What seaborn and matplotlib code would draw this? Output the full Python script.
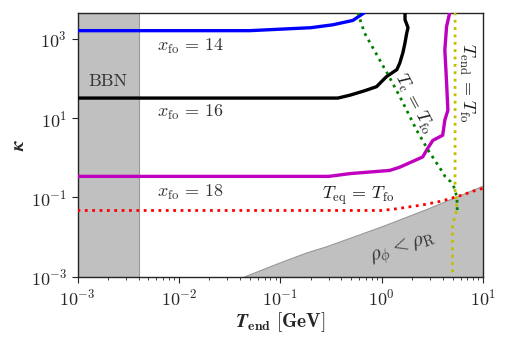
import numpy as np
import pandas as pd
import matplotlib
matplotlib.use('Agg')
import matplotlib.pyplot as plt
import seaborn as sns

# values (T_end in GeV, kappa)

bbn_T = [1e-3, 4e-3]

blue_T = [1e-3, 0.05, 0.2, 0.33, 0.52, 0.68]
blue_k = [1600, 1600, 1900, 2250, 2900, 4600]

black_T = [1e-3, 0.37, 0.49, 0.68, 0.89, 1.12, 1.41, 1.51, 1.62, 1.70,
           1.77, 1.82, 1.70, 1.70]
black_k = [32, 32, 38, 49, 62, 112, 166, 245, 447, 794, 1410, 1905,
           3020, 4600]

magenta_T = [1e-3, 0.3, 0.49, 1.2, 1.51, 2.54, 2.85, 3.2, 4.0, 4.2, 4.5,
             4.37, 4.2, 4.37, 4.7]
magenta_k = [0.34, 0.34, 0.40, 0.48, 0.58, 1.05, 1.74, 2.75, 3.7, 8.9,
             15.8, 78, 525, 2040, 4600]

red_T = [1e-3, 1.0, 1.41, 2.54, 3.9, 6.2, 8.7, 10]
red_k = [0.047, 0.047, 0.052, 0.065, 0.081, 0.115, 0.155, 0.17]

green_T = [0.58, 0.68, 1.04, 1.12, 1.51, 2.21, 2.88, 3.89, 4.22, 4.79,
           5.25, 5.5, 5.56, 5.56]
green_k = [4600, 1380, 200, 145, 35, 5.0, 1.55, 0.48, 0.34, 0.25, 0.17,
           0.102, 0.071, 0.041]

yellow_T = [5.3, 5.3, 5.5, 5.4, 5.0, 5.0]
yellow_k = [4600, 0.15, 0.07, 0.04, 0.02, 1e-3]

rad_T = [0.043, 0.107, 0.18, 0.29, 1.04, 2.75, 10]
rad_k = [1e-3, 2.5e-3, 4.1e-3, 6.0e-3, 0.0195, 0.051, 0.2]

x_ticks = [1e-3, 1e-2, 1e-1, 1e0, 1e1]
y_ticks = [1e-3, 1e-1, 1e1, 1e3]


sns.set_style('ticks')
plt.rcParams['font.family'] = ['cmr10', 'DejaVu Serif']
plt.rcParams['mathtext.fontset'] = 'cm'
plt.rcParams['axes.unicode_minus'] = False
plt.rcParams['axes.formatter.use_mathtext'] = True

fig = plt.figure(figsize=(5.05, 3.38), dpi=100)
ax = fig.add_axes([0.1535, 0.181, 0.803, 0.781])

ymin, ymax = 1e-3, 4.5e3

# shaded regions
ax.fill_between(bbn_T, ymin, ymax, color='silver', edgecolor='0.6',
                linewidth=0.8, zorder=1)
ax.fill_between(rad_T, ymin, rad_k, color='silver', edgecolor='0.6',
                linewidth=0.8, zorder=1)

# contours
curves = [(blue_T, blue_k, 'b'), (black_T, black_k, 'k'),
          (magenta_T, magenta_k, 'm')]
for T, k, c in curves:
    df = pd.DataFrame({'T': T, 'k': k})
    sns.lineplot(data=df, x='T', y='k', sort=False, estimator=None,
                 color=c, linewidth=2.4, ax=ax, zorder=3)

dotted = [(red_T, red_k, 'r'), (green_T, green_k, 'g'),
          (yellow_T, yellow_k, 'y')]
for T, k, c in dotted:
    df = pd.DataFrame({'T': T, 'k': k})
    sns.lineplot(data=df, x='T', y='k', sort=False, estimator=None,
                 color=c, linewidth=2.0, linestyle=':', ax=ax, zorder=4)

ax.set_xscale('log')
ax.set_yscale('log')
ax.set_xlim(1e-3, 1e1)
ax.set_ylim(ymin, ymax)
ax.set_xticks(x_ticks)
ax.set_yticks(y_ticks)
ax.yaxis.set_minor_locator(matplotlib.ticker.NullLocator())
ax.tick_params(axis='both', which='major', labelsize=13, length=4,
               direction='out')
ax.tick_params(axis='x', which='minor', length=2, direction='out')

for s in ax.spines.values():
    s.set_color('0.15')
    s.set_linewidth(1.0)

ax.set_xlabel(r'$\mathbfit{T}_{\mathbf{end}}\ \mathbf{[GeV]}$', fontsize=14,
              labelpad=2)
ax.set_ylabel(r'$\mathbfit{\kappa}$', fontsize=14, labelpad=2)

# annotations
ax.text(0.002, 85, 'BBN', fontsize=13, ha='center', va='center', color='0.2')
ax.text(0.0061, 630, r'$x_{\rm fo}\,=\,14$', fontsize=13, va='center',
        color='0.2')
ax.text(0.0061, 14, r'$x_{\rm fo}\,=\,16$', fontsize=13, va='center',
        color='0.2')
ax.text(0.0061, 0.135, r'$x_{\rm fo}\,=\,18$', fontsize=13, va='center',
        color='0.2')
ax.text(0.26, 0.11, r'$T_{\rm eq}\,=\,T_{\rm fo}$', fontsize=13,
        va='center', color='0.1')
ax.text(2.08, 24, r'$T_{\rm c}\,=\,T_{\rm fo}$', fontsize=13, ha='center',
        va='center', rotation=-62, color='0.1')
ax.text(6.9, 78, r'$T_{\rm end}\,=\,T_{\rm fo}$', fontsize=13, ha='center',
        va='center', rotation=-90, color='0.1')
ax.text(1.6, 0.0052, r'$\rho_\phi < \rho_{\rm R}$', fontsize=15, ha='center',
        va='center', rotation=18, color='0.2')

plt.savefig('out.png', dpi=100)
